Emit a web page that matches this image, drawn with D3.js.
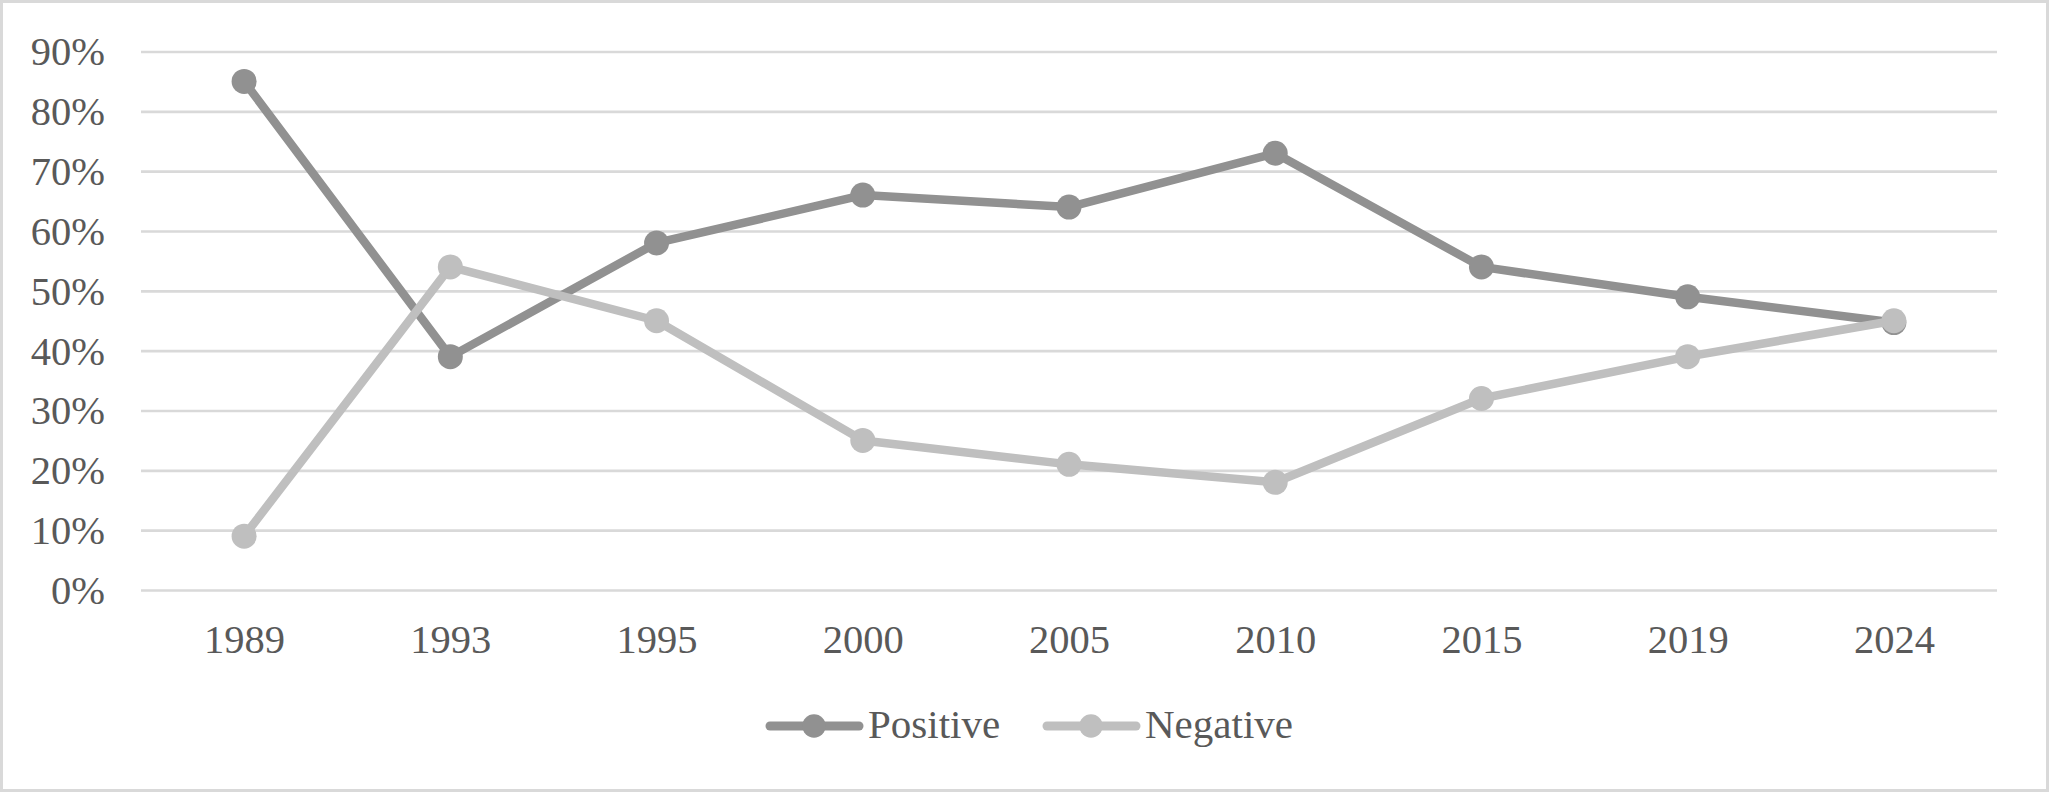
<!DOCTYPE html>
<html>
<head>
<meta charset="utf-8">
<title>Positive vs Negative</title>
<script src="https://d3js.org/d3.v7.min.js"></script>
<style>
    html, body {
        margin: 0;
        padding: 0;
        background: #ffffff;
    }
    text {
        font-family: "Liberation Serif", "Times New Roman", serif;
        fill: #595959;
    }
</style>
</head>
<body>
<div id="graph"></div>

<script>
    // values
    var years = ["1989", "1993", "1995", "2000", "2005", "2010", "2015", "2019", "2024"];
    var positive = [85, 39, 58, 66, 64, 73, 54, 49, 44.7];
    var negative = [9, 54, 45, 25, 21, 18, 32, 39, 45];
    var yTicks = [0, 10, 20, 30, 40, 50, 60, 70, 80, 90];
    var seriesNames = ["Positive", "Negative"];
    var seriesColors = ["#919191", "#bfbfbf"];

    var W = 2049, H = 792;
    var plot = {left: 141, right: 1997, top: 51.5, bottom: 590};
    var fontSize = 40.5;

    var svg = d3.select("#graph")
        .append("svg")
            .attr("width", W)
            .attr("height", H);

    // outer frame
    svg.append("rect")
        .attr("x", 1.5).attr("y", 1.5)
        .attr("width", W - 3).attr("height", H - 3)
        .attr("fill", "#ffffff")
        .attr("stroke", "#d9d9d9")
        .attr("stroke-width", 3);

    var x = d3.scalePoint()
        .domain(years)
        .range([plot.left, plot.right])
        .padding(0.5);

    var y = d3.scaleLinear()
        .domain([0, 90])
        .range([plot.bottom, plot.top]);

    // gridlines + y labels
    var yAxis = d3.axisLeft(y)
        .tickValues(yTicks)
        .tickSize(-(plot.right - plot.left))
        .tickPadding(36)
        .tickFormat(function(d) { return d + "%"; });

    svg.append("g")
        .attr("transform", "translate(" + plot.left + ",0)")
        .call(yAxis)
        .call(function(g) {
            g.select(".domain").remove();
            g.selectAll(".tick line").attr("stroke", "#d9d9d9").attr("stroke-width", 2.6);
            g.selectAll(".tick text")
                .attr("font-size", fontSize)
                .attr("fill", "#595959")
                .attr("font-family", "Liberation Serif, Times New Roman, serif")
                .attr("dy", "0.33em");
        });

    // x labels
    var xAxis = d3.axisBottom(x).tickSize(0).tickPadding(0);

    svg.append("g")
        .attr("transform", "translate(0," + plot.bottom + ")")
        .call(xAxis)
        .call(function(g) {
            g.select(".domain").remove();
            g.selectAll(".tick text")
                .attr("font-size", fontSize)
                .attr("fill", "#595959")
                .attr("font-family", "Liberation Serif, Times New Roman, serif")
                .attr("y", 63)
                .attr("dy", 0);
        });

    var line = d3.line()
        .x(function(d, i) { return x(years[i]); })
        .y(function(d) { return y(d); });

    var allSeries = [positive, negative];

    allSeries.forEach(function(vals, s) {
        svg.append("path")
            .datum(vals)
            .attr("fill", "none")
            .attr("stroke", seriesColors[s])
            .attr("stroke-width", 8.5)
            .attr("stroke-linejoin", "round")
            .attr("d", line);

        svg.selectAll(".dot" + s)
            .data(vals)
            .enter()
            .append("circle")
                .attr("class", "dot" + s)
                .attr("cx", function(d, i) { return x(years[i]); })
                .attr("cy", function(d) { return y(d); })
                .attr("r", 12.5)
                .attr("fill", seriesColors[s]);
    });

    // legend
    var legendX = [766, 1043];
    var legendY = 726;
    var legend = svg.selectAll(".legend")
        .data(seriesNames)
        .enter()
        .append("g")
            .attr("class", "legend")
            .attr("transform", function(d, i) { return "translate(" + legendX[i] + "," + legendY + ")"; });

    legend.append("line")
        .attr("x1", 4).attr("x2", 93)
        .attr("y1", 0).attr("y2", 0)
        .attr("stroke", function(d, i) { return seriesColors[i]; })
        .attr("stroke-width", 9)
        .attr("stroke-linecap", "round");

    legend.append("circle")
        .attr("cx", 48).attr("cy", 0)
        .attr("r", 11.7)
        .attr("fill", function(d, i) { return seriesColors[i]; });

    legend.append("text")
        .attr("x", 102)
        .attr("y", 12)
        .attr("font-size", 41)
        .text(function(d) { return d; });
</script>
</body>
</html>
